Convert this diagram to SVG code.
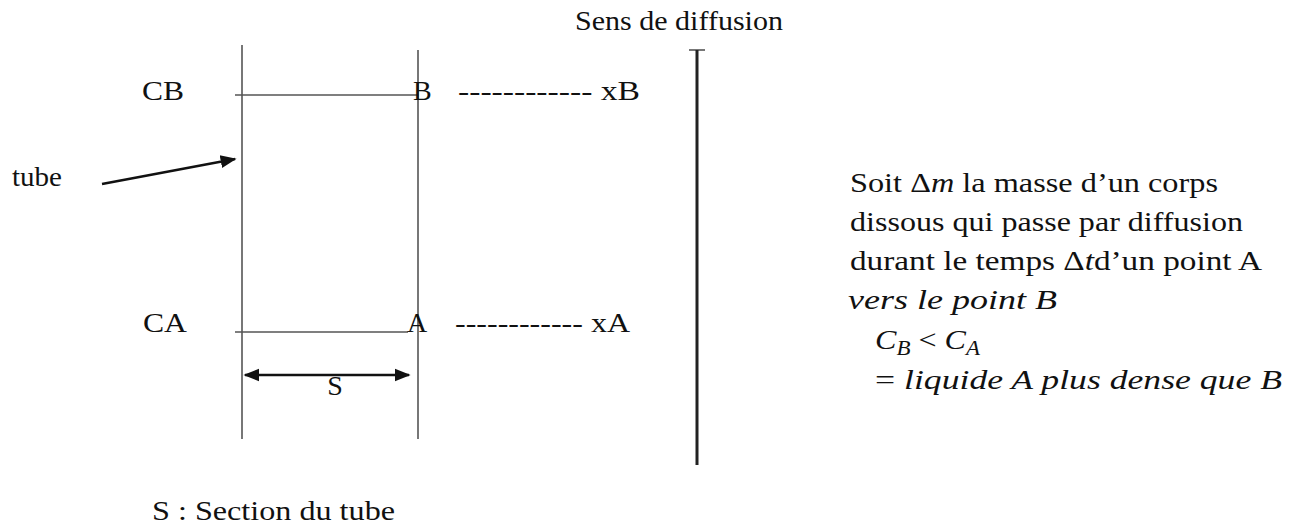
<svg xmlns="http://www.w3.org/2000/svg" width="1302" height="526" viewBox="0 0 1302 526">
  <style>
    text { font-family: "Liberation Serif", "Times New Roman", serif; font-size: 28px; fill: #111; }
    .m { font-style: italic; }
    .thin { stroke: #555; stroke-width: 1.6; fill: none; }
    .ar { stroke: #111; stroke-width: 2.5; fill: none; }
  </style>
  <defs>
    <marker id="ah" viewBox="0 0 10 10" refX="9" refY="5" markerWidth="6.4" markerHeight="6.4" orient="auto-start-reverse" markerUnits="strokeWidth">
      <path d="M0,1 L10,5 L0,9 z" fill="#111"/>
    </marker>
  </defs>
  <rect width="1302" height="526" fill="#fff"/>

  <g id="tube">
    <line class="thin" x1="242" y1="45" x2="242" y2="439"/>
    <line class="thin" x1="418" y1="50" x2="418" y2="439"/>
    <line class="thin" x1="235" y1="95" x2="418" y2="95"/>
    <line class="thin" x1="235" y1="332" x2="408" y2="332"/>
  </g>

  <g id="diffusion-axis">
    <line class="thin" x1="689" y1="50" x2="705" y2="50"/>
    <line x1="697" y1="50" x2="697" y2="465" stroke="#222" stroke-width="3"/>
    <text x="575" y="30" textLength="208" lengthAdjust="spacingAndGlyphs">Sens de diffusion</text>
  </g>

  <g id="labels-B">
    <text x="142" y="100" textLength="42" lengthAdjust="spacingAndGlyphs">CB</text>
    <text x="413" y="100">B</text>
    <text x="458" y="100" textLength="182" lengthAdjust="spacingAndGlyphs">------------  xB</text>
  </g>

  <g id="labels-A">
    <text x="143" y="332" textLength="44" lengthAdjust="spacingAndGlyphs">CA</text>
    <text x="407" y="332">A</text>
    <text x="455" y="332" textLength="175" lengthAdjust="spacingAndGlyphs">------------ xA</text>
  </g>

  <g id="tube-label">
    <text x="12" y="186" textLength="50" lengthAdjust="spacingAndGlyphs">tube</text>
  </g>

  <g id="section-label">
    <text x="335" y="395" text-anchor="middle">S</text>
    <text x="152" y="520" textLength="243" lengthAdjust="spacingAndGlyphs">S : Section du tube</text>
  </g>

  <g id="connectors">
    <line class="ar" x1="102" y1="184" x2="235" y2="159" marker-end="url(#ah)"/>
    <line class="ar" x1="245" y1="375" x2="409" y2="375" marker-start="url(#ah)" marker-end="url(#ah)"/>
  </g>

  <g id="explanation">
    <text x="850" y="192" textLength="368" lengthAdjust="spacingAndGlyphs">Soit Δ<tspan class="m">m</tspan> la masse d’un corps</text>
    <text x="850" y="231" textLength="393" lengthAdjust="spacingAndGlyphs">dissous qui passe par diffusion</text>
    <text x="850" y="270" textLength="412" lengthAdjust="spacingAndGlyphs">durant le temps Δ<tspan class="m">t</tspan>d’un point  A</text>
    <text x="848" y="309" class="m" textLength="209" lengthAdjust="spacingAndGlyphs">vers le point B</text>
    <text x="875" y="349" class="m" font-size="30" textLength="105" lengthAdjust="spacingAndGlyphs">C<tspan font-size="20" dy="6">B</tspan><tspan dy="-6" font-style="normal"> &lt; </tspan>C<tspan font-size="20" dy="6">A</tspan></text>
    <text x="875" y="389" class="m" textLength="407" lengthAdjust="spacingAndGlyphs"><tspan font-style="normal">= </tspan>liquide A plus dense que B</text>
  </g>
</svg>
